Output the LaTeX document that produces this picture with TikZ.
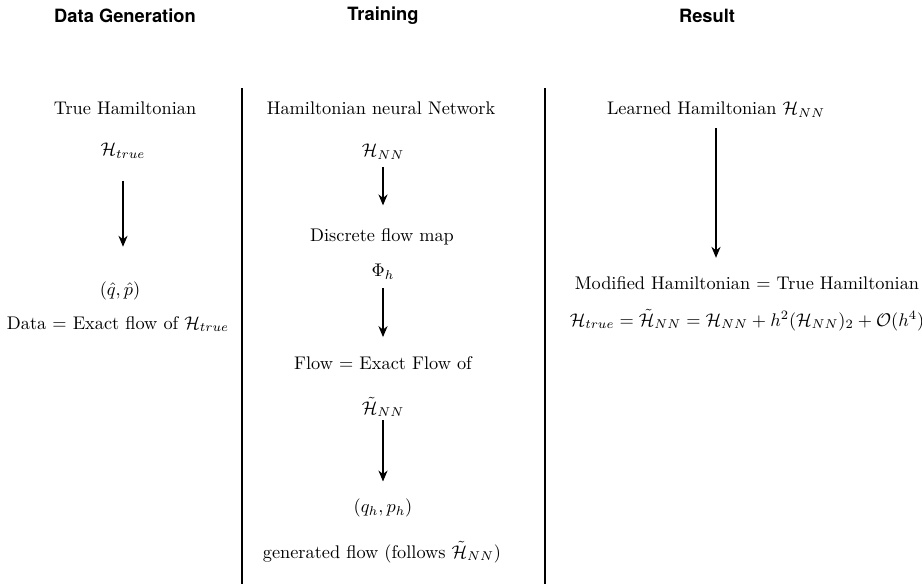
\documentclass[tikz,border=0pt]{standalone}
\usepackage{amsmath,amssymb,fontspec,tikz}
\usetikzlibrary{arrows.meta,calc,positioning}
\newfontfamily\headfont{TeX Gyre Heros}

\begin{document}
\begin{tikzpicture}[x=0.5464pt, y=-0.5464pt,
  head/.style={font=\headfont\bfseries, inner sep=0pt},
  txt/.style={inner sep=0pt},
  flow/.style={-{Stealth[length=6pt,width=5pt]}, line width=0.6pt},
  divider/.style={line width=1.5pt}]
\useasboundingbox (0,0) rectangle (922,584);

% Column headings
\node[head] (hgen) at (125,16) {Data Generation};
\node[head] (htrain) at (383,16) {Training};
\node[head] (hres) at (707,16) {Result};

% Dividers
\draw[divider] (242,88) -- (242,584);
\draw[divider] (545,88) -- (545,584);

% Data generation
\node[txt] (truename) at (125,108) {True Hamiltonian};
\node[txt] (htrue) at (123,151) {$\mathcal{H}_{true}$};
\node[txt] (qphat) at (120,291) {$(\hat{q},\hat{p})$};
\node[txt] (data) at (118,324) {Data $=$ Exact flow of $\mathcal{H}_{true}$};

% Training
\node[txt] (hnnname) at (381,108) {Hamiltonian neural Network};
\node[txt] (hnn) at (383,152) {$\mathcal{H}_{NN}$};
\node[txt] (discrete) at (382,237) {Discrete flow map};
\node[txt] (phih) at (383,272) {$\Phi_h$};
\node[txt] (exactflow) at (383,363) {Flow $=$ Exact Flow of};
\node[txt] (hnntilde) at (383,407) {$\tilde{\mathcal{H}}_{NN}$};
\node[txt] (qhph) at (383,508) {$(q_h,p_h)$};
\node[txt] (generated) at (382,552) {generated flow (follows $\tilde{\mathcal{H}}_{NN}$)};

% Result
\node[txt] (learned) at (716,110) {Learned Hamiltonian $\mathcal{H}_{NN}$};
\node[txt] (modified) at (747,283) {Modified Hamiltonian $=$ True Hamiltonian};
\node[txt] (equal) at (747,320) {$\mathcal{H}_{true} = \tilde{\mathcal{H}}_{NN} = \mathcal{H}_{NN} + h^2(\mathcal{H}_{NN})_2 + \mathcal{O}(h^4)$};

% Arrows
\draw[flow, shorten <=12pt, shorten >=19pt] (htrue.south) -- (htrue.south |- qphat.north);
\draw[flow, shorten <=3.8pt, shorten >=12.6pt] (hnn.south) -- (hnn.south |- discrete.north);
\draw[flow, shorten <=4.4pt, shorten >=10.4pt] (phih.south) -- (phih.south |- exactflow.north);
\draw[flow, shorten <=1.6pt, shorten >=9.3pt] (hnntilde.south) -- (hnntilde.south |- qhph.north);
\draw[flow, shorten <=5.5pt, shorten >=10pt] (learned.south) -- (learned.south |- modified.north);
\end{tikzpicture}
\end{document}
